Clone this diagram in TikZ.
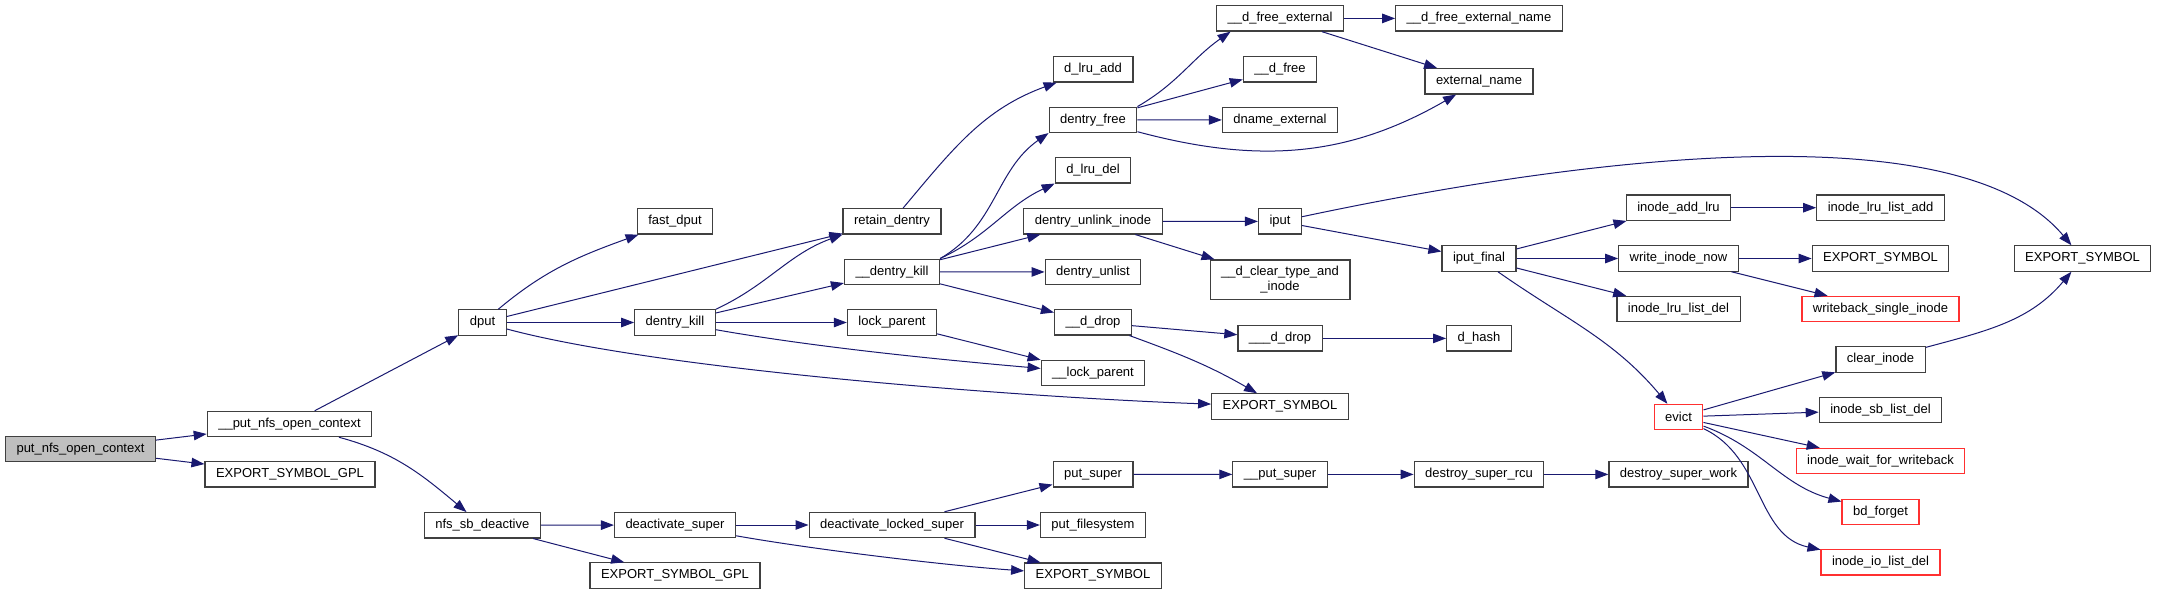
\documentclass[tikz,border=0pt]{standalone}
\usepackage{fontspec}
\setmainfont{Liberation Sans}
\usetikzlibrary{arrows.meta}
\definecolor{edgeblue}{HTML}{191970}
\definecolor{boxline}{HTML}{404040}
\definecolor{truncred}{HTML}{FF3030}
\definecolor{rootgray}{HTML}{BFBFBF}
\begin{document}
\begin{tikzpicture}[x=1pt, y=-1pt, every node/.style={font=\fontsize{13}{14.8}\selectfont}]
  \tikzstyle{fn}=[draw=boxline,line width=1.2pt,fill=white,inner xsep=11pt,inner ysep=0pt,minimum height=25.3pt,align=center]
  \tikzstyle{trunc}=[fn,draw=truncred]
  \tikzstyle{call}=[draw=edgeblue,line width=1pt,-{Triangle[length=13pt,width=9.5pt]}]
  \path[use as bounding box,fill=white] (0,0) rectangle (2157,595);
  % rank 0 - 2
  \node[fn,fill=rootgray] (putctx) at (80.5,449.2) {put\_nfs\_open\_context};
  \node[fn] (uputctx) at (289.5,424) {\_\_put\_nfs\_open\_context};
  \node[fn] (gplA) at (290,474.3) {EXPORT\_SYMBOL\_GPL};
  \node[fn] (dput) at (482.5,322.5) {dput};
  \node[fn] (nfssb) at (482.3,525.3) {nfs\_sb\_deactive};
  % rank 3 - 4
  \node[fn] (fastdput) at (675,221.3) {fast\_dput};
  \node[fn] (dkill) at (675,322.5) {dentry\_kill};
  \node[fn] (deact) at (675,525) {deactivate\_super};
  \node[fn] (gplB) at (675,575.5) {EXPORT\_SYMBOL\_GPL};
  \node[fn] (retain) at (892,221.3) {retain\_dentry};
  \node[fn] (ukill) at (892,271.8) {\_\_dentry\_kill};
  \node[fn] (lockp) at (892,322.5) {lock\_parent};
  \node[fn] (deactlocked) at (892,525) {deactivate\_locked\_super};
  % rank 5
  \node[fn] (lruadd) at (1093,69.3) {d\_lru\_add};
  \node[fn] (dfree) at (1093,119.8) {dentry\_free};
  \node[fn] (lrudel) at (1093,170.3) {d\_lru\_del};
  \node[fn] (unlink) at (1093,221.3) {dentry\_unlink\_inode};
  \node[fn] (unlist) at (1093,272) {dentry\_unlist};
  \node[fn] (uddrop) at (1093,322.3) {\_\_d\_drop};
  \node[fn] (ulockp) at (1093,373) {\_\_lock\_parent};
  \node[fn] (putsuper) at (1093,474.3) {put\_super};
  \node[fn] (putfs) at (1093,525) {put\_filesystem};
  \node[fn] (symC) at (1093,575.7) {EXPORT\_SYMBOL};
  % rank 6
  \node[fn] (dfreeext) at (1280,18.4) {\_\_d\_free\_external};
  \node[fn] (udfree) at (1280,69.4) {\_\_d\_free};
  \node[fn] (dnameext) at (1280,120) {dname\_external};
  \node[fn] (iput) at (1280,221.4) {iput};
  \node[fn,minimum height=39.8pt] (clrtype) at (1280,279.8) {\_\_d\_clear\_type\_and\\\_inode};
  \node[fn] (uuddrop) at (1280,338.4) {\_\_\_d\_drop};
  \node[fn] (symD) at (1280,406.5) {EXPORT\_SYMBOL};
  \node[fn] (uputsuper) at (1280,474.4) {\_\_put\_super};
  % rank 7 - 8
  \node[fn] (dfreeextname) at (1479,18.4) {\_\_d\_free\_external\_name};
  \node[fn] (extname) at (1479,81.3) {external\_name};
  \node[fn] (iputfinal) at (1479,258.5) {iput\_final};
  \node[fn] (dhash) at (1479,338.4) {d\_hash};
  \node[fn] (rcu) at (1479,474.4) {destroy\_super\_rcu};
  \node[fn] (addlru) at (1678.5,207.7) {inode\_add\_lru};
  \node[fn] (writenow) at (1678.5,258.5) {write\_inode\_now};
  \node[fn] (lrulistdel) at (1678.5,309) {inode\_lru\_list\_del};
  \node[trunc] (evict) at (1678.5,417) {evict};
  \node[fn] (superwork) at (1678.5,474.4) {destroy\_super\_work};
  % rank 9 - 10
  \node[fn] (lrulistadd) at (1880.5,207.7) {inode\_lru\_list\_add};
  \node[fn] (symE) at (1880.5,258.5) {EXPORT\_SYMBOL};
  \node[trunc] (wbsingle) at (1880.5,309) {writeback\_single\_inode};
  \node[fn] (clearinode) at (1880.5,359.5) {clear\_inode};
  \node[fn] (sblistdel) at (1880.5,410) {inode\_sb\_list\_del};
  \node[trunc] (waitwb) at (1880.5,461) {inode\_wait\_for\_writeback};
  \node[trunc] (bdforget) at (1880.5,512) {bd\_forget};
  \node[trunc] (iolistdel) at (1880.5,562.4) {inode\_io\_list\_del};
  \node[fn] (symF) at (2082.5,258.5) {EXPORT\_SYMBOL};
  % calls
  \draw[call] (putctx) -- (uputctx);
  \draw[call] (putctx) -- (gplA);
  \draw[call] (uputctx) -- (dput);
  \draw[call] (uputctx) to[out=-15,in=140] (nfssb);
  \draw[call] (dput) to[out=40,in=200] (fastdput);
  \draw[call] (dput) -- (retain);
  \draw[call] (dput) -- (dkill);
  \draw[call] (dput) to[out=-15,in=178,looseness=0.6] (symD);
  \draw[call] (dkill.north east) to[out=25,in=200] (retain.south west);
  \draw[call] (dkill) -- (ukill);
  \draw[call] (dkill) -- (lockp);
  \draw[call] (dkill) to[out=-10,in=175,looseness=0.8] (ulockp);
  \draw[call] (retain) to[out=50,in=200] (lruadd);
  \draw[call] (ukill.north east) to[out=30,in=215] (dfree.south west);
  \draw[call] (ukill.north east) to[out=25,in=205] (lrudel.south west);
  \draw[call] (ukill) -- (unlink);
  \draw[call] (ukill) -- (unlist);
  \draw[call] (ukill) -- (uddrop);
  \draw[call] (lockp) -- (ulockp);
  \draw[call] (dfree.north east) to[out=30,in=215] (dfreeext.195);
  \draw[call] (dfree) -- (udfree);
  \draw[call] (dfree) -- (dnameext);
  \draw[call] (dfree) to[out=-15,in=210] (extname);
  \draw[call] (dfreeext) -- (dfreeextname);
  \draw[call] (dfreeext) -- (extname);
  \draw[call] (unlink) -- (iput);
  \draw[call] (unlink) -- (clrtype);
  \draw[call] (iput) to[out=12,in=130,looseness=0.65] (symF);
  \draw[call] (iput) -- (iputfinal);
  \draw[call] (uddrop) -- (uuddrop);
  \draw[call] (uddrop) to[out=-20,in=150] (symD);
  \draw[call] (uuddrop) -- (dhash);
  \draw[call] (iputfinal) -- (addlru);
  \draw[call] (iputfinal) -- (writenow);
  \draw[call] (iputfinal) -- (lrulistdel);
  \draw[call] (iputfinal) to[out=-35,in=130] (evict);
  \draw[call] (addlru) -- (lrulistadd);
  \draw[call] (writenow) -- (symE);
  \draw[call] (writenow) -- (wbsingle);
  \draw[call] (evict) -- (clearinode);
  \draw[call] (evict) -- (sblistdel);
  \draw[call] (evict) -- (waitwb);
  \draw[call] (evict) to[out=-20,in=165] (bdforget);
  \draw[call] (evict) to[out=-25,in=168] (iolistdel);
  \draw[call] (clearinode) to[out=15,in=230] (symF);
  \draw[call] (nfssb) -- (deact);
  \draw[call] (nfssb) -- (gplB);
  \draw[call] (deact) -- (deactlocked);
  \draw[call] (deact) to[out=-10,in=176,looseness=0.7] (symC);
  \draw[call] (deactlocked) -- (putsuper);
  \draw[call] (deactlocked) -- (putfs);
  \draw[call] (deactlocked) -- (symC);
  \draw[call] (putsuper) -- (uputsuper);
  \draw[call] (uputsuper) -- (rcu);
  \draw[call] (rcu) -- (superwork);
\end{tikzpicture}
\end{document}
